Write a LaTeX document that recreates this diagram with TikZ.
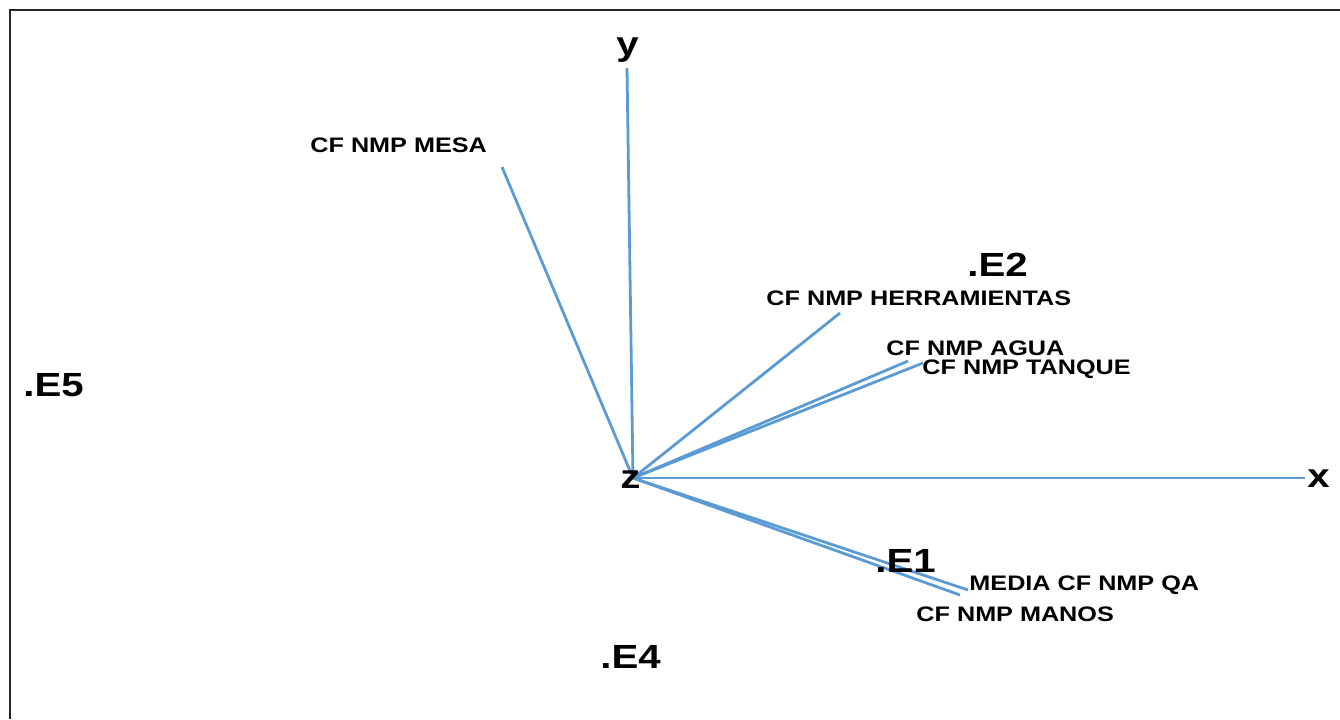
\documentclass[tikz,border=0pt]{standalone}
\usepackage{fontspec}
\setmainfont{Liberation Sans}
\begin{document}
\begin{tikzpicture}[x=0.5pt,y=-0.5pt,
  vec/.style={draw=vecblue,line width=1.4pt},
  small/.style={font=\fontsize{10.5pt}{12pt}\selectfont\bfseries,inner sep=0pt,anchor=base west,xscale=1.2,transform shape},
  big/.style={font=\fontsize{16.75pt}{19pt}\selectfont\bfseries,inner sep=0pt,anchor=base west,xscale=1.2,transform shape}]
\definecolor{vecblue}{RGB}{91,155,213}
\useasboundingbox (0,0) rectangle (1340,719);
% frame (open on the right and bottom)
\draw[line width=0.9pt,black!85] (1340,10) -- (10,10) -- (10,719);

% origin and vector tips
\coordinate (o) at (633,478);
\coordinate (ty) at (627,68);
\coordinate (tx) at (1305,478);
\coordinate (tmesa) at (502,167);
\coordinate (therr) at (840,313);
\coordinate (tagua) at (908,361);
\coordinate (ttanq) at (923,363);
\coordinate (tqa) at (968,590);
\coordinate (tmanos) at (960,595);

\draw[vec] (o) -- (ty);
\draw[vec] (o) -- (tx);
\draw[vec] (o) -- (tmesa);
\draw[vec] (o) -- (therr);
\draw[vec] (o) -- (tagua);
\draw[vec] (o) -- (ttanq);
\draw[vec] (o) -- (tqa);
\draw[vec] (o) -- (tmanos);

% axis letters
\node[big] (ly) at (616,55) {y};
\node[big] (lx) at (1307,487) {x};
\node[big] (lz) at (620,488) {z};

% variable labels
\node[small] (lmesa) at (310,152) {CF NMP MESA};
\node[small] (lherr) at (766,305) {CF NMP HERRAMIENTAS};
\node[small] (lagua) at (886,355) {CF NMP AGUA};
\node[small] (ltanq) at (922,374) {CF NMP TANQUE};
\node[small] (lqa) at (969,590) {MEDIA CF NMP QA};
\node[small] (lmanos) at (916,621) {CF NMP MANOS};

% observation points
\node[big] (e2) at (967,276) {.E2};
\node[big] (e5) at (23,396) {.E5};
\node[big] (e1) at (875,572) {.E1};
\node[big] (e4) at (600,668) {.E4};
\end{tikzpicture}
\end{document}
